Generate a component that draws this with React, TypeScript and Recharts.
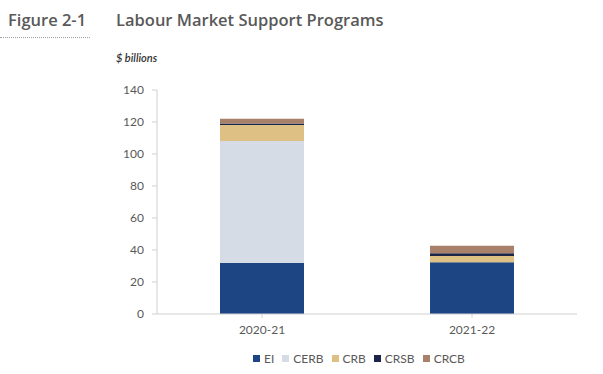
import React from "react";
import { BarChart, Bar, XAxis, YAxis, CartesianGrid } from "recharts";

const years = ["2020-21", "2021-22"];
const ei = [31.9, 32.4];
const cerb = [76.2, 0];
const crb = [10.0, 3.8];
const crsb = [1.0, 1.7];
const crcb = [3.0, 4.7];
const yTicks = [0, 20, 40, 60, 80, 100, 120, 140];

const series = [
  { key: "EI", values: ei, color: "#1d4584" },
  { key: "CERB", values: cerb, color: "#d6dce6" },
  { key: "CRB", values: crb, color: "#dfc084" },
  { key: "CRSB", values: crsb, color: "#1c2448" },
  { key: "CRCB", values: crcb, color: "#a9816a" },
];

const data = years.map((year, i) => {
  const row: any = { year };
  series.forEach((s) => {
    row[s.key] = s.values[i];
  });
  return row;
});

const font = "Lato, 'Open Sans', sans-serif";
const titleFont = "'Open Sans', sans-serif";
const textGray = "#595959";
const axisGray = "#d0d0d0";

export default function App() {
  return (
    <div
      style={{
        position: "fixed",
        left: 0,
        top: 0,
        width: 603,
        height: 374,
        background: "#fff",
        fontFamily: font,
      }}
    >
      <div
        style={{
          position: "absolute",
          left: 8,
          top: 8,
          fontSize: 16.5,
          fontWeight: 600,
          fontFamily: titleFont,
          color: textGray,
        }}
      >
        Figure 2-1
      </div>
      <div
        style={{
          position: "absolute",
          left: 0,
          top: 37,
          width: 90,
          borderTop: "1px dotted #a0a0a0",
        }}
      />
      <div
        style={{
          position: "absolute",
          left: 116,
          top: 8,
          fontSize: 16.5,
          fontWeight: 600,
          fontFamily: titleFont,
          color: textGray,
        }}
      >
        Labour Market Support Programs
      </div>
      <div
        style={{
          position: "absolute",
          left: 116,
          top: 51,
          fontSize: 11,
          fontStyle: "italic",
          fontWeight: 600,
          color: "#333",
        }}
      >
        $ billions
      </div>

      <div style={{ position: "absolute", left: 0, top: 0 }}>
        <BarChart
          width={603}
          height={374}
          data={data}
          margin={{ top: 90, right: 26, bottom: 0, left: 0 }}
          barCategoryGap="30%"
        >
          <CartesianGrid stroke="none" />
          <XAxis
            dataKey="year"
            height={60}
            stroke={axisGray}
            tickSize={4}
            tickMargin={7}
            tick={{ fill: textGray, fontSize: 12, fontFamily: font }}
          />
          <YAxis
            width={157}
            domain={[0, 140]}
            ticks={yTicks}
            stroke={axisGray}
            tickSize={5}
            tickMargin={8}
            tick={{ fill: textGray, fontSize: 12, fontFamily: font }}
          />
          {series.map((s) => (
            <Bar
              key={s.key}
              dataKey={s.key}
              stackId="a"
              fill={s.color}
              isAnimationActive={false}
            />
          ))}
        </BarChart>
      </div>

      <div
        style={{
          position: "absolute",
          left: 253,
          top: 351,
          display: "flex",
          alignItems: "center",
          fontSize: 12,
          color: textGray,
        }}
      >
        {series.map((s) => (
          <div
            key={s.key}
            style={{ display: "flex", alignItems: "center", marginRight: 8 }}
          >
            <span
              style={{
                display: "inline-block",
                width: 7,
                height: 7,
                background: s.color,
                marginRight: 4,
              }}
            />
            {s.key}
          </div>
        ))}
      </div>
    </div>
  );
}
